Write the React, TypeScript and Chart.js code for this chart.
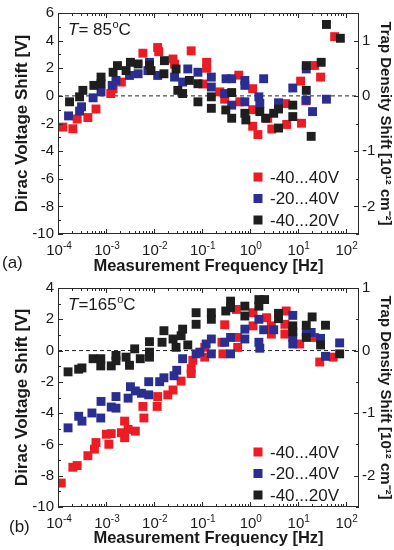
import React, { useEffect, useRef } from "react";
import { Chart, registerables } from "chart.js";

Chart.register(...registerables);

const FONT = "'Liberation Sans', Arial, Helvetica, sans-serif";
const RED = "rgb(237,28,36)";
const BLUE = "rgb(43,46,145)";
const BLACK = "rgb(30,30,30)";
const TEXT = "#1a1a1a";

// ---- shared labels / ticks ----
const seriesLabels = ["-40...40V", "-20...40V", "-40...20V"];
const xTickValues = [1e-4, 1e-3, 1e-2, 1e-1, 1, 10, 100];
const xTickExponents = ["-4", "-3", "-2", "-1", "0", "1", "2"];
const rightTicks = [-2, -1, 0, 1];
const X_MIN = 1e-4;
const X_MAX = 190;

// ---- panel (a): T = 85 C ----
const freqA_red = [1.26e-4, 2.04e-4, 2.51e-4, 4.2e-4, 6.2e-4, 1.26e-3, 1.41e-3, 2.1e-3, 5.9e-3, 1.2e-2, 1.26e-2, 2.51e-2, 2.7e-2, 6.0e-2, 0.126, 0.126, 0.105, 0.237, 0.3, 0.59, 0.62, 1.15, 1.15, 1.15, 1.48, 2.37, 2.88, 5.6, 5.9, 11.5, 12, 14.8, 22.4, 30, 59];
const voltA_red = [-2.26, -2.38, -1.67, -1.57, -0.95, 0.17, 0.52, 1.0, 3.09, 3.5, 3.2, 2.67, 2.3, 3.26, 2.43, 2.0, 0.86, 0.29, -0.24, 1.5, -0.43, 0.52, -1.0, -2.2, -2.8, -1.62, -2.4, -0.56, -2.07, 1.07, -1.98, -0.36, 2.2, 1.36, 4.29];

const freqA_blue = [1.66e-4, 2.82e-4, 3.1e-4, 5.4e-4, 7.9e-4, 1.35e-3, 1.62e-3, 3.1e-3, 4.7e-3, 7.5e-3, 8.1e-3, 1.2e-2, 2.7e-2, 3.98e-2, 5.1e-2, 8.3e-2, 0.158, 0.158, 0.32, 0.42, 0.3, 0.42, 0.79, 0.79, 0.79, 1.55, 1.62, 1.95, 3.98, 7.9, 15.1, 15.1, 20.4, 39.8];
const voltA_blue = [-1.45, -1.1, -0.79, -0.14, 0.29, 0.76, 1.12, 1.48, 1.6, 1.83, 2.43, 1.48, 1.36, 1.0, 1.95, 1.71, 1.36, 0.64, 1.24, 1.24, 0.17, -0.67, 1.12, 0.76, -0.43, -0.07, -0.55, 1.24, -0.5, 0.57, 1.95, -0.31, -1.14, -0.24];

const freqA_black = [1.74e-4, 2.82e-4, 3.3e-4, 5.6e-4, 7.9e-4, 7.9e-4, 1.41e-3, 1.74e-3, 2.63e-3, 3.24e-3, 4.7e-3, 8.1e-3, 8.7e-3, 1.66e-2, 1.62e-2, 2.9e-2, 3.16e-2, 3.98e-2, 5.5e-2, 8.3e-2, 8.3e-2, 0.158, 0.158, 0.42, 0.316, 0.42, 0.79, 0.83, 1.62, 2.14, 3.16, 3.98, 3.98, 7.9, 7.9, 15.1, 15.1, 30.9, 19.1, 39.8, 77.6];
const voltA_black = [-0.43, -0.07, 0.4, 0.76, 0.88, 1.36, 1.71, 2.19, 1.83, 2.43, 2.31, 2.24, 1.83, 2.55, 1.6, 1.95, 0.4, 0.17, 1.12, 0.88, -0.43, -0.07, -0.9, 0.24, -1.02, -1.62, -1.26, -1.74, -1.14, -1.62, -1.26, -0.95, -2.33, -0.67, -1.5, 2.19, 0.4, 2.43, -2.93, 5.17, 4.17];

// ---- panel (b): T = 165 C ----
const freqB_red = [1.17e-4, 2.04e-4, 2.51e-4, 4.2e-4, 5.75e-4, 6.2e-4, 1.02e-3, 1.15e-3, 1.29e-3, 2.1e-3, 2.45e-3, 2.45e-3, 2.9e-3, 4.1e-3, 5.9e-3, 6.2e-3, 1.2e-2, 1.17e-2, 1.95e-2, 2.51e-2, 3.7e-2, 6.0e-2, 6.0e-2, 6.5e-2, 0.115, 0.115, 0.3, 0.275, 0.263, 0.525, 0.56, 0.56, 1.17, 1.17, 2.24, 2.82, 2.82, 5.75, 5.4, 5.4, 11, 22.4, 28.8, 55];
const voltB_red = [-8.47, -7.46, -7.35, -6.72, -6.3, -5.88, -5.35, -5.99, -5.31, -5.25, -4.51, -5.57, -5.04, -5.15, -3.57, -4.31, -2.94, -3.57, -2.83, -2.52, -1.95, -1.15, -1.47, -0.62, 0.21, -0.42, 1.65, -0.21, 0.53, 2.63, 0.84, 0.2, 2.42, 1.58, 2.1, 1.58, 1.05, 2.53, 1.68, 1.05, 0.42, 0.84, -0.73, -0.42];

const freqB_blue = [1.62e-4, 2.7e-4, 3.16e-4, 5.1e-4, 7.8e-4, 7.9e-4, 1.29e-3, 1.62e-3, 1.62e-3, 2.9e-3, 3.24e-3, 4.1e-3, 5.5e-3, 7.8e-3, 7.8e-3, 1.32e-2, 1.62e-2, 2.63e-2, 3.0e-2, 3.98e-2, 7.6e-2, 0.123, 0.091, 0.158, 0.158, 0.3, 0.398, 0.398, 0.79, 0.79, 1.55, 1.55, 1.62, 1.95, 3.16, 7.9, 7.9, 7.9, 15.1, 19.1, 30, 38, 75];
const voltB_blue = [-4.94, -4.2, -4.51, -3.99, -4.31, -3.25, -3.61, -3.68, -2.94, -3.04, -2.31, -2.58, -2.73, -2.83, -1.99, -1.99, -1.74, -1.61, -1.26, -0.52, -0.21, 0.42, -0.1, 0.74, -0.21, 0.53, 0.84, -0.21, 1.37, 0.74, 2.0, 0.53, 0.15, 1.33, 1.33, 2.25, 0.84, 0.42, 1.16, 1.16, 0.78, -0.37, 0.49];

const freqB_black = [1.62e-4, 2.7e-4, 3.16e-4, 5.4e-4, 7.8e-4, 7.8e-4, 1.29e-3, 1.62e-3, 1.62e-3, 2.63e-3, 3.1e-3, 3.98e-3, 5.2e-3, 8.1e-3, 8.1e-3, 8.1e-3, 1.48e-2, 1.62e-2, 2.51e-2, 2.9e-2, 3.7e-2, 3.98e-2, 5.1e-2, 7.6e-2, 7.6e-2, 0.158, 0.158, 0.316, 0.398, 0.398, 0.79, 0.79, 1.55, 2.04, 1.55, 3.98, 3.98, 7.9, 7.9, 15.1, 15.1, 20, 30, 38, 75];
const voltB_black = [-1.36, -1.19, -1.11, -0.52, -0.52, -0.98, -0.98, -0.31, -0.65, -0.42, -0.94, 0.11, -0.52, 0.57, -0.1, -0.42, 0.53, 1.27, 0.74, 0.21, 0.95, 1.37, 0.36, 2.42, 1.68, 2.42, 2.0, 2.53, 3.16, 2.74, 2.84, 2.21, 3.26, 3.26, 2.84, 2.38, 2.04, 1.58, 1.2, 1.62, 0.84, 2.15, 0.36, 1.62, -0.21];

const tempTexts = ["= 85", "=165"];
const panelLetters = ["(a)", "(b)"];

function zip(xs: number[], ys: number[]) {
  return xs.map((x, i) => ({ x, y: ys[i] }));
}

type PanelCfg = {
  yMin: number;
  yMax: number;
  red: { x: number; y: number }[];
  blue: { x: number; y: number }[];
  black: { x: number; y: number }[];
  temp: string;
  letter: string;
  letterX: number;
  letterY: number;
  xAxisHeight: number;
  xTitlePad: number;
};

const decorPlugin = {
  id: "decor",
  afterDatasetsDraw(chart: any, _args: any, opts: any) {
    const { ctx, chartArea: a, scales } = chart;
    const x = scales.x;
    const y = scales.y;
    const y2 = scales.y2;
    ctx.save();
    ctx.strokeStyle = "#2a2a2a";
    ctx.lineWidth = 1;
    // frame
    ctx.strokeRect(a.left + 0.5, a.top + 0.5, a.right - a.left - 1, a.bottom - a.top - 1);
    ctx.beginPath();
    // x ticks (bottom and top, inward)
    for (let d = -4; d <= 2; d++) {
      for (let m = 1; m <= 9; m++) {
        const v = m * Math.pow(10, d);
        if (v < X_MIN * 0.999 || v > X_MAX) continue;
        const px = Math.round(x.getPixelForValue(v)) + 0.5;
        const len = m === 1 ? 5 : 3;
        ctx.moveTo(px, a.bottom);
        ctx.lineTo(px, a.bottom - len);
        ctx.moveTo(px, a.top);
        ctx.lineTo(px, a.top + len);
      }
    }
    // left y ticks
    for (let v = y.min; v <= y.max; v += 1) {
      const py = Math.round(y.getPixelForValue(v)) + 0.5;
      const len = v % 2 === 0 ? 5 : 3;
      ctx.moveTo(a.left, py);
      ctx.lineTo(a.left + len, py);
    }
    // right y ticks
    for (let v = Math.ceil(y2.min * 2) / 2; v <= y2.max + 1e-9; v += 0.5) {
      const py = Math.round(y2.getPixelForValue(v)) + 0.5;
      const len = Number.isInteger(v) ? 5 : 3;
      ctx.moveTo(a.right, py);
      ctx.lineTo(a.right - len, py);
    }
    ctx.stroke();

    // x tick labels with superscripts
    ctx.fillStyle = TEXT;
    ctx.textBaseline = "alphabetic";
    ctx.textAlign = "left";
    xTickValues.forEach((v, i) => {
      const px = x.getPixelForValue(v);
      ctx.font = `15px ${FONT}`;
      const wb = ctx.measureText("10").width;
      ctx.font = `10px ${FONT}`;
      const we = ctx.measureText(xTickExponents[i]).width;
      const sx = px - (wb + we) / 2 + 1;
      const by = a.bottom + 20.5;
      ctx.font = `15px ${FONT}`;
      ctx.fillText("10", sx, by);
      ctx.font = `10px ${FONT}`;
      ctx.fillText(xTickExponents[i], sx + wb, by - 6);
    });

    // temperature annotation
    let cx = a.left + 10;
    const ty = 35;
    ctx.font = `italic 17px ${FONT}`;
    ctx.fillText("T", cx, ty);
    cx += ctx.measureText("T").width;
    ctx.font = `17px ${FONT}`;
    ctx.fillText(opts.temp, cx, ty);
    cx += ctx.measureText(opts.temp).width + 0.5;
    ctx.font = `11px ${FONT}`;
    ctx.fillText("o", cx, ty - 7);
    cx += ctx.measureText("o").width;
    ctx.font = `17px ${FONT}`;
    ctx.fillText("C", cx, ty);

    // legend
    const rows = chart.data.datasets.filter((d: any) => seriesLabels.includes(d.label));
    rows.forEach((d: any, i: number) => {
      const cy = 177 + i * 21.5;
      ctx.fillStyle = d.backgroundColor;
      ctx.fillRect(253.5, cy - 4.5, 9, 9);
      ctx.fillStyle = TEXT;
      ctx.font = `17px ${FONT}`;
      ctx.textBaseline = "middle";
      ctx.fillText(d.label, 270, cy + 1);
    });

    // panel letter
    ctx.textBaseline = "middle";
    ctx.font = `17px ${FONT}`;
    ctx.fillStyle = TEXT;
    ctx.fillText(opts.letter, opts.letterX, opts.letterY);
    ctx.restore();
  },
};

function Panel({ cfg }: { cfg: PanelCfg }) {
  const ref = useRef<HTMLCanvasElement | null>(null);
  useEffect(() => {
    if (!ref.current) return;
    const pt = { pointStyle: "rect", pointRadius: 6.3, pointHoverRadius: 6.3, borderWidth: 0, yAxisID: "y" };
    const chart = new Chart(ref.current, {
      type: "scatter",
      data: {
        datasets: [
          {
            type: "line",
            label: "zero",
            data: [
              { x: X_MIN, y: 0 },
              { x: X_MAX, y: 0 },
            ],
            borderColor: "#222",
            borderWidth: 1,
            borderDash: [4, 3],
            pointRadius: 0,
            order: 10,
            yAxisID: "y",
          } as any,
          { ...pt, label: seriesLabels[0], data: cfg.red, backgroundColor: RED, borderColor: RED, order: 3 } as any,
          { ...pt, label: seriesLabels[1], data: cfg.blue, backgroundColor: BLUE, borderColor: BLUE, order: 2 } as any,
          { ...pt, label: seriesLabels[2], data: cfg.black, backgroundColor: BLACK, borderColor: BLACK, order: 1 } as any,
        ],
      },
      options: {
        animation: false,
        responsive: false,
        maintainAspectRatio: false,
        devicePixelRatio: 1,
        events: [],
        layout: { padding: { top: 10, left: 0, right: 0, bottom: 0 } },
        plugins: {
          legend: { display: false },
          tooltip: { enabled: false },
          decor: { temp: cfg.temp, letter: cfg.letter, letterX: cfg.letterX, letterY: cfg.letterY },
        } as any,
        scales: {
          x: {
            type: "logarithmic",
            position: "bottom",
            min: X_MIN,
            max: X_MAX,
            grid: { display: false, drawTicks: false },
            border: { display: false },
            ticks: { display: false },
            title: {
              display: true,
              text: "Measurement Frequency [Hz]",
              color: TEXT,
              font: { family: FONT, size: 16.5, weight: "bold", lineHeight: 1 },
              padding: { top: 0, bottom: cfg.xTitlePad },
            },
            afterFit: (s: any) => {
              s.height = cfg.xAxisHeight;
            },
          },
          y: {
            type: "linear",
            position: "left",
            min: cfg.yMin,
            max: cfg.yMax,
            grid: { display: false, drawTicks: false },
            border: { display: false },
            ticks: { stepSize: 2, color: TEXT, font: { family: FONT, size: 15 }, padding: 4 },
            title: {
              display: true,
              text: "Dirac Voltage Shift [V]",
              color: TEXT,
              font: { family: FONT, size: 17, weight: "bold", lineHeight: 1.2 },
              padding: { top: 12, bottom: 0 },
            },
            afterFit: (s: any) => {
              s.width = 58;
            },
          },
          y2: {
            type: "linear",
            position: "right",
            min: cfg.yMin / 4,
            max: cfg.yMax / 4,
            grid: { display: false, drawTicks: false },
            border: { display: false },
            afterBuildTicks: (s: any) => {
              s.ticks = rightTicks.map((v) => ({ value: v }));
            },
            ticks: { color: TEXT, font: { family: FONT, size: 15 }, padding: 3 },
            title: {
              display: true,
              text: "Trap Density Shift [10\u00B9\u00B2 cm\u207B\u00B2]",
              color: TEXT,
              font: { family: FONT, size: 15, weight: "bold", lineHeight: 1.2 },
              padding: { top: 0, bottom: 0 },
            },
            afterFit: (s: any) => {
              s.width = 35;
            },
          },
        },
      } as any,
      plugins: [decorPlugin as any],
    });
    return () => chart.destroy();
  }, [cfg]);
  return <canvas ref={ref} width={394} height={275} style={{ display: "block", width: 394, height: 275 }} />;
}

const cfgA: PanelCfg = {
  yMin: -10,
  yMax: 6,
  red: zip(freqA_red, voltA_red),
  blue: zip(freqA_blue, voltA_blue),
  black: zip(freqA_black, voltA_black),
  temp: tempTexts[0],
  letter: panelLetters[0],
  letterX: 2,
  letterY: 263,
  xAxisHeight: 41,
  xTitlePad: 0,
};

const cfgB: PanelCfg = {
  yMin: -10,
  yMax: 4,
  red: zip(freqB_red, voltB_red),
  blue: zip(freqB_blue, voltB_blue),
  black: zip(freqB_black, voltB_black),
  temp: tempTexts[1],
  letter: panelLetters[1],
  letterX: 9,
  letterY: 252,
  xAxisHeight: 43,
  xTitlePad: 3,
};

export default function App() {
  return (
    <div style={{ position: "absolute", left: 0, top: 0, width: 394, height: 550, background: "#fff" }}>
      <Panel cfg={cfgA} />
      <Panel cfg={cfgB} />
    </div>
  );
}
